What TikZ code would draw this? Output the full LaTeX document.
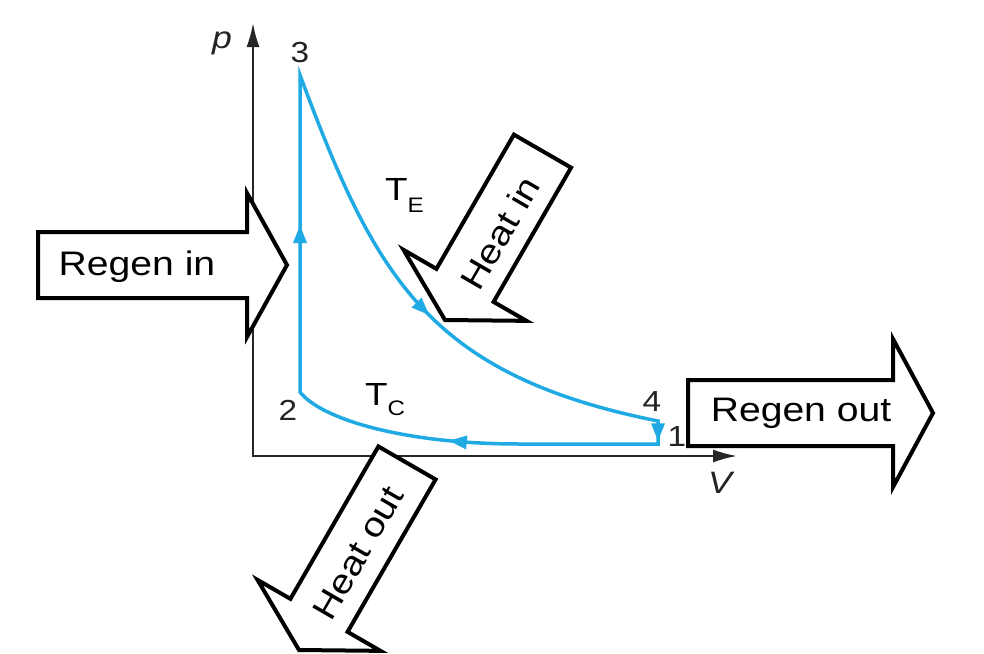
\documentclass[tikz,border=0pt]{standalone}
\usepackage{fontspec}
\setmainfont{Liberation Sans}
\usetikzlibrary{arrows.meta,decorations.markings}
\definecolor{cycblue}{RGB}{32,170,228}
\definecolor{labgray}{RGB}{35,35,35}
\newcommand\blockarr[4]{%
  \draw[blk, shift={#1}, rotate=#2] (0,0) -- (-40,#4) -- (-40,33) -- (-#3,33) -- (-#3,-33) -- (-40,-33) -- (-40,-#4) -- cycle;}
\newcommand\sx[1]{\scalebox{1.15}[1]{#1}}
\begin{document}
\begin{tikzpicture}[x=1pt,y=-1pt,
  axis/.style={line width=2pt, black!85},
  cyc/.style={line width=3.5pt, draw=cycblue, line join=miter},
  blk/.style={line width=4pt, draw=black, fill=white, line join=miter},
  bigtxt/.style={font=\fontsize{34}{34}\selectfont, inner sep=0pt},
  numtxt/.style={font=\fontsize{29}{29}\selectfont, text=labgray, inner sep=0pt},
  axtxt/.style={font=\fontsize{31}{31}\selectfont\itshape, text=labgray, inner sep=0pt},
  ttxt/.style={inner sep=0pt, anchor=base west, text=black}]
\useasboundingbox (0,0) rectangle (984,653);
% axes
\coordinate (o) at (253,456);
\coordinate (ytip) at (253,23);
\coordinate (xtip) at (737,456);
\draw[axis, {Latex[length=24pt,width=13pt]}-{Latex[length=24pt,width=13pt]}] (ytip) -- (o) -- (xtip);
\node[axtxt] (plab) at (222,43) {\sx{p}};
\node[axtxt] (vlab) at (720,483) {\sx{V}};
% cycle
\coordinate (p3) at (300,75);
\coordinate (p2) at (300,392);
\coordinate (p4) at (658,421);
\coordinate (p1) at (658,444);
\coordinate (b1) at (520,444);
\draw[cyc, postaction={decorate, decoration={markings,
   mark=at position 167pt with {\arrow[cycblue]{Triangle[length=18pt,width=13pt]}},
   mark=at position 592pt with {\arrow[cycblue]{Triangle[length=18pt,width=13pt]}},
   mark=at position 868pt with {\arrow[cycblue]{Triangle[length=18pt,width=13pt]}},
   mark=at position 1080pt with {\arrow[cycblue]{Triangle[length=18pt,width=13pt]}}}}]
  (p2) -- (p3) .. controls (375,277) and (428,375) .. (p4)
  -- (p1) -- (b1) .. controls (400,444) and (320,418) .. (p2) -- cycle;
% point labels
\node[numtxt] (n3) at (300,53) {\sx{3}};
\node[numtxt] (n2) at (288,410) {\sx{2}};
\node[numtxt] (n4) at (652,402) {\sx{4}};
\node[numtxt] (n1) at (677,437) {\sx{1}};
\node[ttxt] (te) at (385,200) {\sx{\fontsize{32}{32}\selectfont T\raisebox{-12pt}{\fontsize{21}{21}\selectfont E}}};
\node[ttxt] (tc) at (365,405) {\sx{\fontsize{32}{32}\selectfont T\raisebox{-10pt}{\fontsize{21}{21}\selectfont C}}};
% block arrows
\blockarr{(287,265)}{0}{249}{72}
\node[bigtxt] (regin) at (137,267) {\sx{Regen in}};
\blockarr{(933,413)}{0}{245}{74}
\node[bigtxt] (regout) at (801,413) {\sx{Regen out}};
\blockarr{(445,320)}{240}{195}{71}
\node[bigtxt, rotate=60] (heatin) at (500,233) {\sx{Heat in}};
\blockarr{(299,650)}{240}{216}{71}
\node[bigtxt, rotate=60] (heatout) at (358,553) {\sx{Heat out}};
\end{tikzpicture}
\end{document}
